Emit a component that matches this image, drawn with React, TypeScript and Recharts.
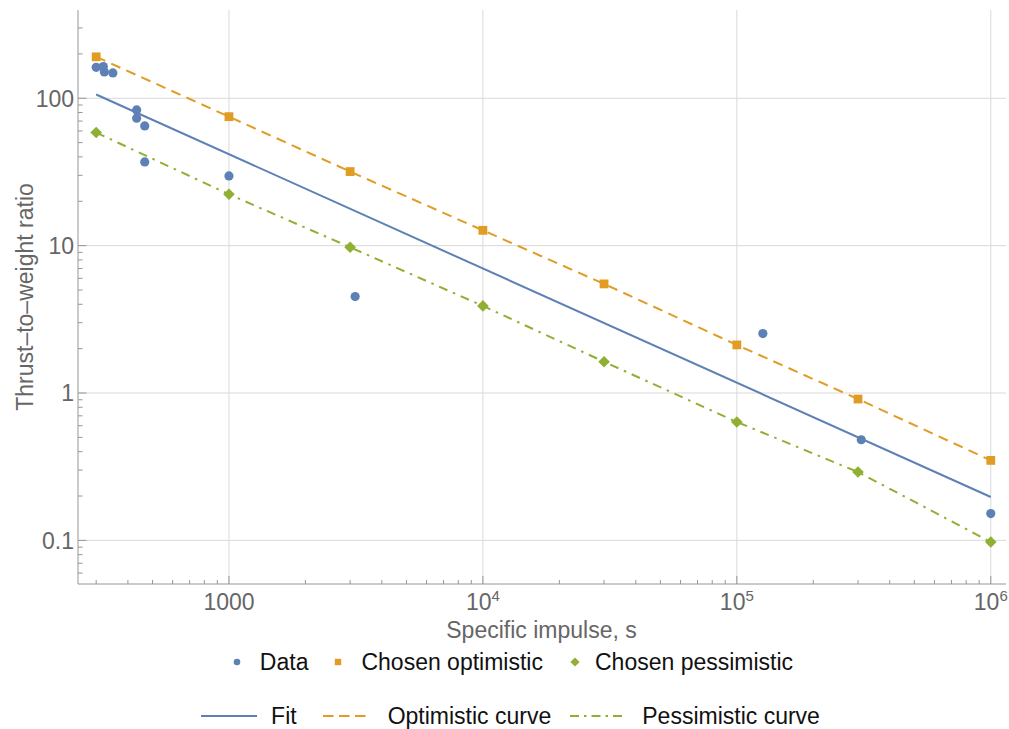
import React from "react";
import { ScatterChart, Scatter, XAxis, YAxis, ReferenceLine, Customized } from "recharts";

// measured points (specific impulse in s, thrust-to-weight ratio)
const dataImpulse = [300, 320, 323, 349, 433, 433, 466, 466, 1000, 3140, 126600, 309000, 1000000];
const dataRatio = [162, 164, 151, 148.6, 83.3, 73.2, 64.9, 37.0, 29.7, 4.51, 2.53, 0.482, 0.152];

const chosenImpulse = [300, 1000, 3000, 10000, 30000, 100000, 300000, 1000000];
const optimisticRatio = [191, 75.0, 31.8, 12.7, 5.5, 2.12, 0.91, 0.349];
const pessimisticRatio = [58.5, 22.3, 9.75, 3.9, 1.63, 0.636, 0.291, 0.0975];

const fitImpulse = [300, 1000000];
const fitRatio = [106, 0.197];

const xMajorTicks = [1000, 10000, 100000, 1000000];
const xMinorTicks = [
  300, 400, 500, 600, 700, 800, 900,
  2000, 3000, 4000, 5000, 6000, 7000, 8000, 9000,
  20000, 30000, 40000, 50000, 60000, 70000, 80000, 90000,
  200000, 300000, 400000, 500000, 600000, 700000, 800000, 900000,
];
const yMajorTicks = [0.1, 1, 10, 100];
const yMinorTicks = [
  0.06, 0.07, 0.08, 0.09,
  0.2, 0.3, 0.4, 0.5, 0.6, 0.7, 0.8, 0.9,
  2, 3, 4, 5, 6, 7, 8, 9,
  20, 30, 40, 50, 60, 70, 80, 90,
  200, 300,
];

const BLUE = "#5E81B5";
const ORANGE = "#E19C24";
const GREEN = "#8FB032";
const AXIS = "#969696";
const GRID = "#d9d9d9";
const LABEL = "#666666";
const FONT = '"Liberation Sans", Arial, Helvetica, sans-serif';

const zip = (xs: number[], ys: number[]) => xs.map((x, i) => ({ x, y: ys[i] }));

const dataPoints = zip(dataImpulse, dataRatio);
const optimisticPoints = zip(chosenImpulse, optimisticRatio);
const pessimisticPoints = zip(chosenImpulse, pessimisticRatio);
const fitPoints = zip(fitImpulse, fitRatio);

const XTick = (props: any) => {
  const { x, y, payload } = props;
  const v = payload.value;
  const major = xMajorTicks.includes(v);
  const exp = Math.round(Math.log10(v));
  return (
    <g>
      <line x1={x} y1={y} x2={x} y2={y - (major ? 8 : 4)} stroke={AXIS} />
      {major && (
        <text x={x} y={y + 26} textAnchor="middle" fill={LABEL} fontSize={23} fontFamily={FONT}>
          {exp === 3 ? "1000" : (
            <>
              10<tspan dy={-9} fontSize={15}>{exp}</tspan>
            </>
          )}
        </text>
      )}
    </g>
  );
};

const YTick = (props: any) => {
  const { x, y, payload } = props;
  const v = payload.value;
  const major = yMajorTicks.includes(v);
  return (
    <g>
      <line x1={x} y1={y} x2={x + (major ? 8.5 : 4.5)} y2={y} stroke={AXIS} />
      {major && (
        <text x={x - 4} y={y} dy="0.36em" textAnchor="end" fill={LABEL} fontSize={23} fontFamily={FONT}>
          {String(v)}
        </text>
      )}
    </g>
  );
};

const Dot = (p: any) => <circle cx={p.cx} cy={p.cy} r={4.6} fill={BLUE} />;
const Square = (p: any) => (
  <rect x={p.cx - 4.4} y={p.cy - 4.4} width={8.8} height={8.8} fill={ORANGE} />
);
const Diamond = (p: any) => (
  <path
    d={`M${p.cx},${p.cy - 5.8}L${p.cx + 5.8},${p.cy}L${p.cx},${p.cy + 5.8}L${p.cx - 5.8},${p.cy}Z`}
    fill={GREEN}
  />
);
const NoShape = () => <g />;

const AxisTitles = () => (
  <g fontFamily={FONT} fontSize={23} fill={LABEL}>
    <text x={541.5} y={638} textAnchor="middle">Specific impulse, s</text>
    <text x={33} y={297} textAnchor="middle" transform="rotate(-90, 33, 297)">
      Thrust–to–weight ratio
    </text>
  </g>
);

const legendText: React.CSSProperties = { whiteSpace: "nowrap", color: "#111" };

function ChartLegend() {
  const row: React.CSSProperties = {
    position: "absolute",
    left: 0,
    width: 1009,
    height: 28,
    boxSizing: "border-box",
    display: "flex",
    alignItems: "center",
    justifyContent: "center",
    fontFamily: FONT,
    fontSize: 23,
  };
  return (
    <>
      <div style={{ ...row, top: 648, paddingLeft: 17 }}>
        <svg width={8} height={8}><circle cx={4} cy={4} r={3.3} fill={BLUE} /></svg>
        <span style={{ ...legendText, marginLeft: 19 }}>Data</span>
        <svg width={8} height={8} style={{ marginLeft: 26 }}><rect x={0.8} y={0.8} width={6.4} height={6.4} fill={ORANGE} /></svg>
        <span style={{ ...legendText, marginLeft: 19 }}>Chosen optimistic</span>
        <svg width={10} height={10} style={{ marginLeft: 27 }}><path d="M5,0.4L9.6,5L5,9.6L0.4,5Z" fill={GREEN} /></svg>
        <span style={{ ...legendText, marginLeft: 15 }}>Chosen pessimistic</span>
      </div>
      <div style={{ ...row, top: 702, paddingLeft: 12 }}>
        <svg width={56} height={6}><line x1={0} y1={3} x2={56} y2={3} stroke={BLUE} strokeWidth={2} /></svg>
        <span style={{ ...legendText, marginLeft: 14 }}>Fit</span>
        <svg width={56} height={6} style={{ marginLeft: 22 }}><line x1={4} y1={3} x2={47} y2={3} stroke={ORANGE} strokeWidth={2} strokeDasharray="10.5 5.5" /></svg>
        <span style={{ ...legendText, marginLeft: 13 }}>Optimistic curve</span>
        <svg width={56} height={6} style={{ marginLeft: 19 }}><line x1={0} y1={3} x2={53} y2={3} stroke={GREEN} strokeWidth={2} strokeDasharray="9 5 2.5 5" /></svg>
        <span style={{ ...legendText, marginLeft: 16 }}>Pessimistic curve</span>
      </div>
    </>
  );
}

export default function App() {
  return (
    <div style={{ position: "absolute", left: 0, top: 0, width: 1009, height: 729, background: "#fff" }}>
      <ScatterChart width={1009} height={729} margin={{ top: 10, right: 3, bottom: 0, left: 0 }}>
        <XAxis
          type="number"
          dataKey="x"
          scale="log"
          domain={[254.4, 1148000]}
          allowDataOverflow
          ticks={[...xMinorTicks, ...xMajorTicks].sort((a, b) => a - b)}
          interval={0}
          tick={XTick}
          tickLine={false}
          tickSize={0}
          tickMargin={0}
          axisLine={{ stroke: AXIS }}
          height={145}
        />
        <YAxis
          type="number"
          dataKey="y"
          scale="log"
          domain={[0.0506, 397]}
          allowDataOverflow
          ticks={[...yMinorTicks, ...yMajorTicks].sort((a, b) => a - b)}
          interval={0}
          tick={YTick}
          tickLine={false}
          tickSize={0}
          tickMargin={0}
          axisLine={{ stroke: AXIS }}
          width={78}
        />
        {xMajorTicks.map((t) => (
          <ReferenceLine key={`gx${t}`} x={t} stroke={GRID} strokeWidth={1} />
        ))}
        {yMajorTicks.map((t) => (
          <ReferenceLine key={`gy${t}`} y={t} stroke={GRID} strokeWidth={1} />
        ))}
        <Scatter name="Fit" data={fitPoints} shape={NoShape} line={{ stroke: BLUE, strokeWidth: 2 }} isAnimationActive={false} />
        <Scatter
          name="Optimistic curve"
          data={optimisticPoints}
          shape={NoShape}
          line={{ stroke: ORANGE, strokeWidth: 2, strokeDasharray: "10 6.5" }}
          isAnimationActive={false}
        />
        <Scatter
          name="Pessimistic curve"
          data={pessimisticPoints}
          shape={NoShape}
          line={{ stroke: GREEN, strokeWidth: 2, strokeDasharray: "9 6 2.5 6" }}
          isAnimationActive={false}
        />
        <Scatter name="Data" data={dataPoints} shape={Dot} isAnimationActive={false} />
        <Scatter name="Chosen optimistic" data={optimisticPoints} shape={Square} isAnimationActive={false} />
        <Scatter name="Chosen pessimistic" data={pessimisticPoints} shape={Diamond} isAnimationActive={false} />
        <Customized component={AxisTitles} />
      </ScatterChart>
      <ChartLegend />
    </div>
  );
}
